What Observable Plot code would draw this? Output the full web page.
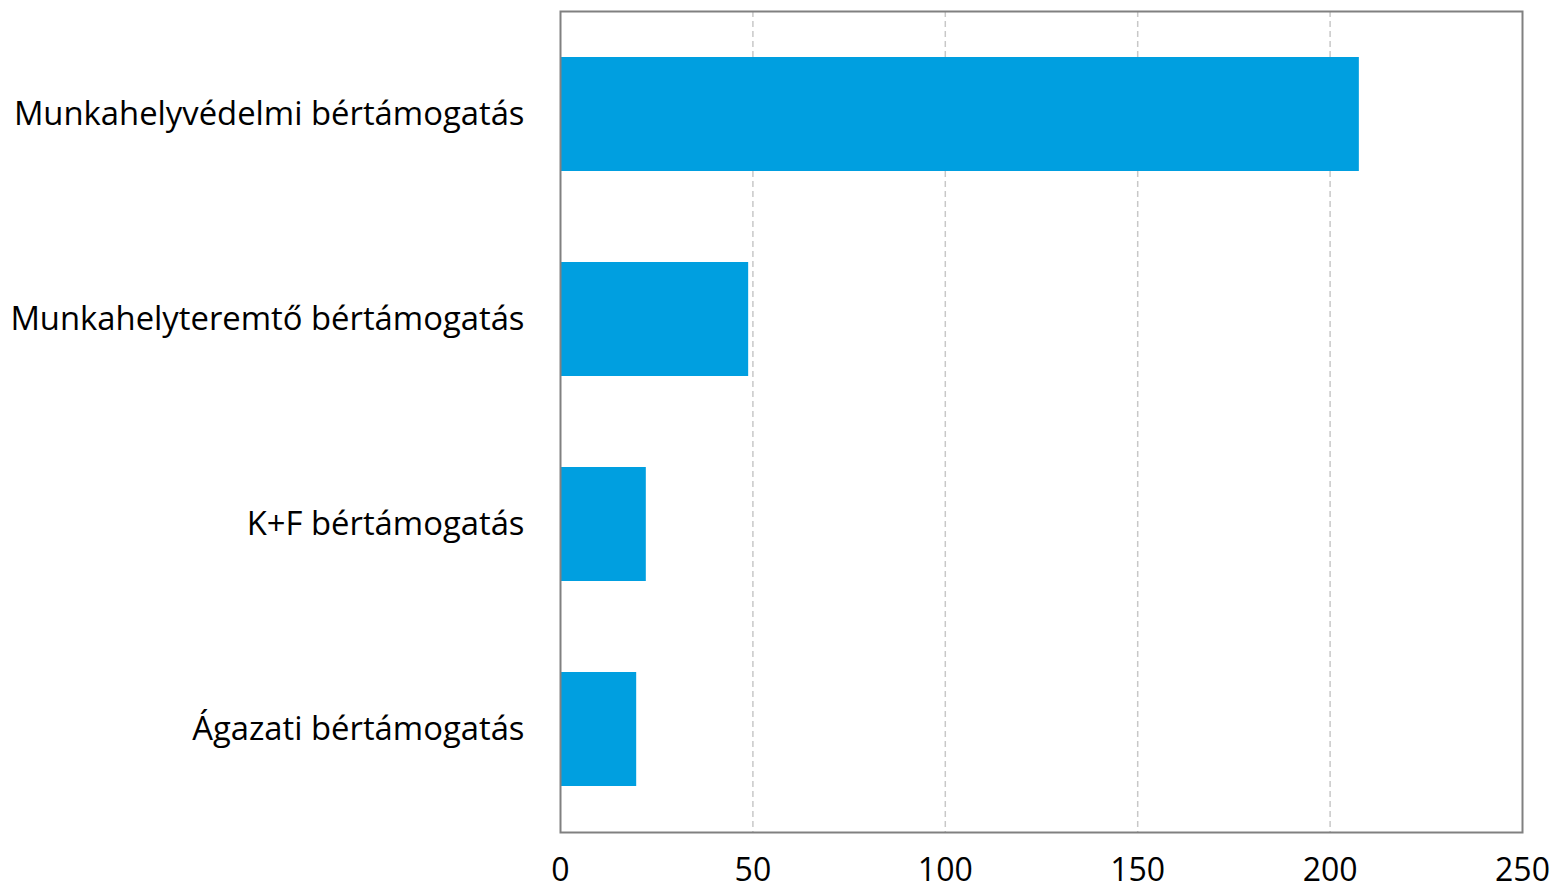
<!DOCTYPE html>
<html>
<head>
<meta charset="utf-8">
<script src="https://cdn.jsdelivr.net/npm/d3@7"></script>
<script src="https://cdn.jsdelivr.net/npm/@observablehq/plot@0.6"></script>
<style>
  html, body { margin: 0; padding: 0; background: #fff; }
  svg text { font-variant-ligatures: none; }
</style>
</head>
<body>
<div id="chart"></div>
<script>
const categories = [
  "Munkahelyvédelmi bértámogatás",
  "Munkahelyteremtő bértámogatás",
  "K+F bértámogatás",
  "Ágazati bértámogatás"
];
const values = [207.6, 48.9, 22.3, 19.8];
const xTicks = [0, 50, 100, 150, 200, 250];
const gridTicks = [50, 100, 150, 200];

const data = categories.map((c, i) => ({ category: c, value: values[i] }));

const chart = Plot.plot({
  width: 1553,
  height: 895,
  marginLeft: 560,
  marginRight: 31,
  marginTop: 11,
  marginBottom: 63,
  style: { fontFamily: "'Open Sans', sans-serif", fontSize: "32.8px", color: "#000", background: "#fff" },
  x: { domain: [0, 250] },
  y: { domain: categories, paddingInner: 0.445, paddingOuter: 0.2225 },
  marks: [
    Plot.ruleX(gridTicks, { stroke: "#c8c8c8", strokeWidth: 1.5, strokeDasharray: "6,4" }),
    Plot.barX(data, { x: "value", y: "category", fill: "#009FE0" }),
    Plot.frame({ stroke: "#808080", strokeWidth: 2 }),
    Plot.axisX(xTicks, { tickSize: 0, tickPadding: 26, fontSize: 32, label: null, fill: "#000" }),
    Plot.axisY({ tickSize: 0, tickPadding: 36, fontSize: 32.8, label: null, fill: "#000" })
  ]
});
document.getElementById("chart").appendChild(chart);
</script>
</body>
</html>
